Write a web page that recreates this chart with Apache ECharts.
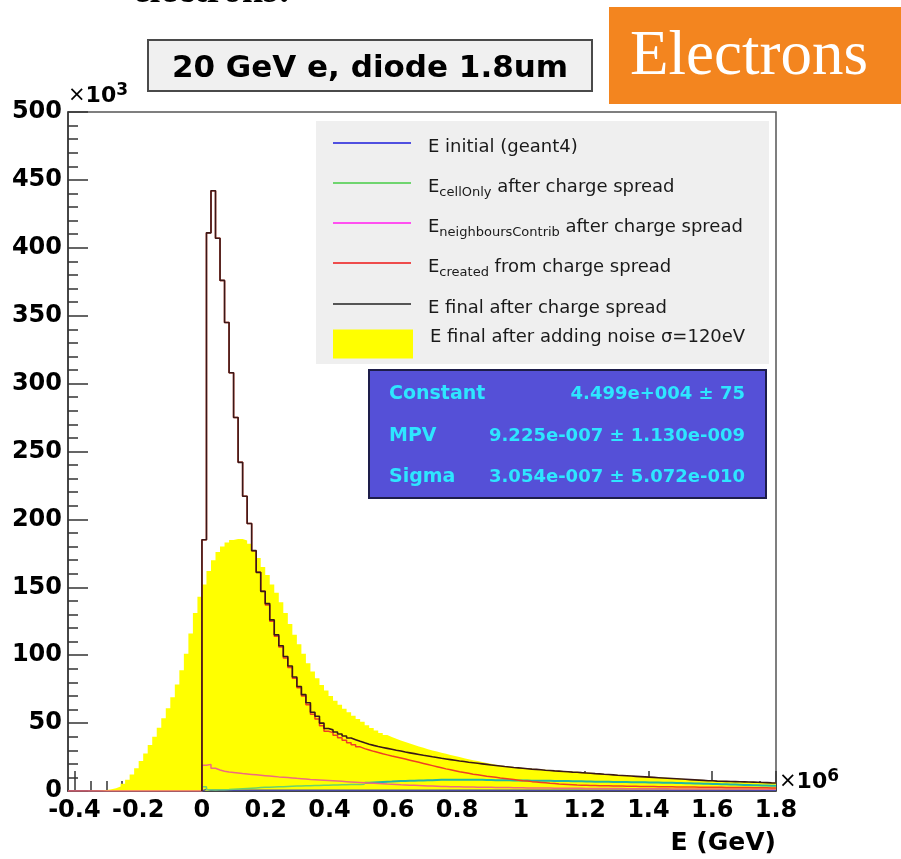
<!DOCTYPE html>
<html>
<head>
<meta charset="utf-8">
<title>20 GeV e, diode 1.8um</title>
<script src="https://cdn.jsdelivr.net/npm/echarts@6.0.0/dist/echarts.min.js"></script>
<style>
  html, body { margin: 0; padding: 0; background: #fff; }
  #chart { width: 901px; height: 859px; }
</style>
</head>
<body>
<div id="chart"></div>
<script>
// x range of the frame, in units of 10^6 (as on the axis)
const X_MIN = -0.42
const X_MAX = 1.8
// bins are anchored at 0, 127 bins up to 1.8
const BIN_WIDTH = 1.8 / 127

const X_TICKS = [-0.4, -0.2, 0, 0.2, 0.4, 0.6, 0.8, 1, 1.2, 1.4, 1.6, 1.8]

// counts in units of 10^3, one value per bin, starting at bin 0 (E = 0)
const finalCounts = [
  185, 411, 442, 407, 376, 345, 308, 275, 242, 217,
  197, 177, 161, 147, 138, 126, 115, 107, 99, 92,
  84, 77, 71, 65, 58, 55, 50, 46, 45, 43.5,
  42, 40.5, 39, 37.8, 36.6, 35.5, 34.5, 33.6, 32.8, 32.1,
  31.4, 30.7, 30, 29.4, 28.7, 28.1, 27.5, 26.9, 26.3, 25.8,
  25.2, 24.7, 24.1, 23.6, 23.1, 22.6, 22.1, 21.7, 21.2, 20.8,
  20.4, 20, 19.6, 19.2, 18.8, 18.4, 18.0, 17.7, 17.3, 17.0,
  16.7, 16.4, 16.1, 15.9, 15.6, 15.3, 15.1, 14.8, 14.6, 14.4,
  14.2, 13.9, 13.8, 13.5, 13.3, 13.1, 12.8, 12.6, 12.3, 12.1,
  11.9, 11.6, 11.4, 11.2, 11.0, 10.8, 10.6, 10.4, 10.2, 10.0,
  9.8, 9.6, 9.4, 9.2, 9.0, 8.8, 8.6, 8.4, 8.2, 8.0,
  7.8, 7.6, 7.5, 7.3, 7.2, 7.1, 7.0, 6.9, 6.8, 6.7,
  6.6, 6.5, 6.4, 6.3, 6.2, 6.0, 5.9
]

const createdCounts = [
  185, 411, 442, 407, 376, 345, 308, 275, 242, 217,
  197, 177, 161, 147, 137, 125, 114, 106, 98, 91,
  83, 76, 70, 63.5, 56.5, 53, 48, 44, 43, 41,
  39.2, 37.4, 35.6, 34, 32.5, 31.2, 30.2, 29.2, 28.3, 27.4,
  26.6, 25.8, 25.1, 24.3, 23.5, 22.7, 21.9, 21.1, 20.3, 19.5,
  18.7, 17.9, 17.1, 16.3, 15.6, 14.9, 14.2, 13.6, 13.0, 12.4,
  11.9, 11.4, 10.9, 10.5, 10.1, 9.6, 9.2, 8.8, 8.4, 8.0,
  7.6, 7.3, 6.9, 6.6, 6.3, 6.0, 5.7, 5.5, 5.2, 5.0,
  4.8, 4.6, 4.4, 4.3, 4.2, 4.1, 4.0, 3.9, 3.85, 3.8,
  3.7, 3.65, 3.6, 3.55, 3.5, 3.45, 3.4, 3.35, 3.3, 3.25,
  3.2, 3.15, 3.1, 3.05, 3.0, 3.0, 2.95, 2.9, 2.9, 2.85,
  2.8, 2.8, 2.75, 2.7, 2.7, 2.65, 2.6, 2.6, 2.55, 2.5,
  2.5, 2.45, 2.4, 2.4, 2.35, 2.3, 2.3
]

const neighbourCounts = [
  19, 19.6, 16.7, 15.5, 14.6, 14.0, 13.6, 13.2, 12.8, 12.5,
  12.2, 11.9, 11.6, 11.3, 11.0, 10.7, 10.4, 10.2, 9.9, 9.6,
  9.3, 9.1, 8.8, 8.5, 8.3, 8.1, 7.9, 7.7, 7.5, 7.3,
  7.1, 6.9, 6.7, 6.5, 6.3, 6.1, 5.9, 5.7, 5.5, 5.3,
  5.1, 4.95, 4.8, 4.6, 4.45, 4.3, 4.15, 4.0, 3.85, 3.7,
  3.6, 3.5, 3.4, 3.3, 3.2, 3.1, 3.05, 3.0, 2.95, 2.9,
  2.85, 2.8, 2.75, 2.7, 2.65, 2.6, 2.55, 2.5, 2.45, 2.4,
  2.35, 2.3, 2.3, 2.25, 2.2, 2.2, 2.15, 2.1, 2.1, 2.05,
  2.0, 2.0, 1.95, 1.95, 1.9, 1.9, 1.85, 1.85, 1.8, 1.8,
  1.8, 1.75, 1.75, 1.7, 1.7, 1.7, 1.65, 1.65, 1.65, 1.6,
  1.6, 1.6, 1.6, 1.55, 1.55, 1.55, 1.55, 1.5, 1.5, 1.5,
  1.5, 1.5, 1.45, 1.45, 1.45, 1.45, 1.4, 1.4, 1.4, 1.4,
  1.4, 1.35, 1.35, 1.35, 1.35, 1.3, 1.3
]

// cellOnly: bins 0..35 (green part) and bins 36..126 (teal part)
const cellOnlyHead = [
  3.2, 0.9, 0.8, 0.9, 1.0, 1.1, 1.3, 1.5, 1.7, 1.9,
  2.1, 2.3, 2.5, 2.7, 2.8, 3.0, 3.1, 3.2, 3.4, 3.5,
  3.6, 3.7, 3.8, 3.9, 4.0, 4.1, 4.2, 4.3, 4.4, 4.5,
  4.55, 4.6, 4.7, 4.75, 4.8, 4.9
]
const cellOnlyTail = [
  6.1, 6.3, 6.5, 6.7, 6.9, 7.0, 7.2, 7.3, 7.4, 7.5,
  7.6, 7.7, 7.8, 7.9, 8.0, 8.1, 8.2, 8.2, 8.3, 8.3,
  8.3, 8.3, 8.3, 8.2, 8.2, 8.2, 8.1, 8.1, 8.0, 8.0,
  7.9, 7.9, 7.8, 7.8, 7.7, 7.7, 7.6, 7.6, 7.6, 7.5,
  7.5, 7.4, 7.4, 7.3, 7.3, 7.2, 7.1, 7.1, 7.0, 7.0,
  6.9, 6.9, 6.8, 6.8, 6.7, 6.7, 6.6, 6.6, 6.5, 6.5,
  6.4, 6.4, 6.3, 6.2, 6.2, 6.1, 6.0, 6.0, 5.9, 5.8,
  5.7, 5.7, 5.6, 5.5, 5.4, 5.3, 5.2, 5.1, 5.0, 4.9,
  4.8, 4.7, 4.6, 4.5, 4.4, 4.3, 4.2, 4.1, 4.0, 3.9, 3.8
]

const initialCounts = [
  1.2, 0.6, 0.5, 0.5, 0.5, 0.6, 0.5, 0.5, 0.5, 0.6,
  0.5, 0.5, 0.6, 0.5, 0.5, 0.5, 0.6, 0.5, 0.5, 0.5,
  0.6, 0.5, 0.5, 0.5, 0.6, 0.5, 0.5, 0.6, 0.5, 0.5,
  0.5, 0.6, 0.5, 0.5, 0.5, 0.6, 0.5, 0.5, 0.5, 0.6,
  0.5, 0.5, 0.6, 0.5, 0.5, 0.5, 0.6, 0.5, 0.5, 0.5,
  0.6, 0.5, 0.5, 0.5, 0.6, 0.5, 0.5, 0.6, 0.5, 0.5,
  0.5, 0.6, 0.5, 0.5, 0.5, 0.6, 0.5, 0.5, 0.5, 0.6,
  0.5, 0.5, 0.6, 0.5, 0.5, 0.5, 0.6, 0.5, 0.5, 0.5,
  0.6, 0.5, 0.5, 0.5, 0.6, 0.5, 0.5, 0.6, 0.5, 0.5,
  0.5, 0.6, 0.5, 0.5, 0.5, 0.6, 0.5, 0.5, 0.5, 0.6,
  0.5, 0.5, 0.6, 0.5, 0.5, 0.5, 0.6, 0.5, 0.5, 0.5,
  0.6, 0.5, 0.5, 0.5, 0.6, 0.5, 0.5, 0.6, 0.5, 0.5,
  0.5, 0.6, 0.5, 0.5, 0.5, 0.6, 0.5
]

// E final with noise: bins -30..-1, then bins 0..126
const noisyNeg = [
  0, 0, 0, 0, 0, 0.1, 0.2, 0.4, 0.7, 1.2,
  2, 3.4, 5.3, 8.3, 12.2, 16.8, 22, 27.6, 33.8, 40,
  46.5, 53.5, 61, 69, 78.5, 89, 101, 116, 131, 143
]
const noisyPos = [
  152, 162, 170, 176, 180, 183, 184.8, 185.5, 185.5, 184.5,
  182, 177, 171.5, 165, 159, 152, 146, 139, 131, 123,
  115, 108, 101, 94, 88, 83, 78, 74, 70, 66.5,
  63.5, 60.5, 58, 55.5, 53, 51, 48.5, 46.3, 44.5, 42.8,
  41.2, 39.8, 38.5, 37.2, 36, 34.9, 33.9, 32.8, 31.8, 30.8,
  29.9, 29, 28.2, 27.4, 26.6, 25.8, 25, 24.2, 23.4, 22.7,
  22, 21.3, 20.6, 20, 19.3, 18.8, 18.4, 18.0, 17.6, 17.3,
  17.0, 16.7, 16.4, 16.2, 15.9, 15.6, 15.4, 15.1, 14.9, 14.7,
  14.5, 14.2, 14.1, 13.8, 13.6, 13.4, 13.1, 12.9, 12.6, 12.4,
  12.2, 11.9, 11.7, 11.5, 11.3, 11.1, 10.9, 10.7, 10.5, 10.3,
  10.1, 9.9, 9.7, 9.5, 9.3, 9.1, 8.9, 8.7, 8.5, 8.3,
  8.1, 7.9, 7.8, 7.6, 7.5, 7.4, 7.3, 7.2, 7.1, 7.0,
  6.9, 6.8, 6.7, 6.6, 6.5, 6.3, 6.2
]

const FIT_LABELS = ['Constant', 'MPV', 'Sigma']
const FIT_VALUES = ['4.499e+004 \u00b1 75', '9.225e-007 \u00b1 1.130e-009', '3.054e-007 \u00b1 5.072e-010']

const LEGEND_TEXT = {
  initial: '{n|E initial (geant4)}',
  cellOnly: '{n|E}{s|cellOnly}{n| after charge spread}',
  neighbours: '{n|E}{s|neighboursContrib}{n| after charge spread}',
  created: '{n|E}{s|created}{n| from charge spread}',
  final: '{n|E final after charge spread}',
  noise: '{n|E final after adding noise }{n|\u03c3=120eV}'
}
// legend rows: series name, icon colour, top of the row
const LEGEND_ROWS = [
  ['initial', '#5050e0', 138],
  ['cellOnly', '#6fd56f', 178],
  ['neighbours', '#ff50f0', 218],
  ['created', '#ee4c4c', 258],
  ['final', '#555', 299]
]

const FONT = 'DejaVu Sans'

// turn per-bin counts into step points (left edges + closing right edge)
function histPoints(firstBin, values, riseFrom) {
  const pts = []
  if (riseFrom !== undefined) pts.push([riseFrom, 0])
  values.forEach((v, i) => pts.push([(firstBin + i) * BIN_WIDTH, v]))
  pts.push([(firstBin + values.length) * BIN_WIDTH, values[values.length - 1]])
  return pts
}

function histLine(name, data, color, width) {
  return {
    name: name,
    type: 'line',
    step: 'end',
    symbol: 'none',
    silent: true,
    color: color,
    lineStyle: { color: color, width: width || 1.5 },
    data: data
  }
}

const X_MINOR = []
X_TICKS.forEach(t => {
  [0.05, 0.1, 0.15].forEach(d => {
    const v = +(t + d).toFixed(2)
    if (v < X_MAX) X_MINOR.push(v)
  })
})

const legendRich = {
  n: { fontFamily: FONT, fontSize: 18, color: '#1a1a1a', lineHeight: 24 },
  s: { fontFamily: FONT, fontSize: 13, color: '#1a1a1a', lineHeight: 10, verticalAlign: 'bottom' }
}

const powRich = {
  x: { fontFamily: FONT, fontSize: 21, color: '#000', lineHeight: 28 },
  t: { fontFamily: FONT, fontSize: 22, fontWeight: 'bold', color: '#000', lineHeight: 28 },
  p: { fontFamily: FONT, fontSize: 17, fontWeight: 'bold', color: '#000', lineHeight: 12, verticalAlign: 'top' }
}

const axisColor = '#333'

function legendRow(name, color, top, opts) {
  return Object.assign({
    orient: 'vertical',
    left: 333,
    top: top,
    padding: 0,
    itemWidth: 78,
    itemHeight: 2,
    icon: 'rect',
    selectedMode: false,
    itemStyle: { borderWidth: 0 },
    formatter: n => LEGEND_TEXT[n],
    textStyle: { fontFamily: FONT, fontSize: 18, color: '#1a1a1a', padding: [8, 0, 0, 12], rich: legendRich },
    data: [{ name: name, itemStyle: { color: color } }]
  }, opts || {})
}

const legends = LEGEND_ROWS.map(r => legendRow(r[0], r[1], r[2]))
legends.push(legendRow('noise', '#ffff00', 328, {
  itemWidth: 80,
  itemHeight: 29,
  textStyle: { fontFamily: FONT, fontSize: 18, color: '#1a1a1a', padding: [0, 0, 14, 12], rich: legendRich }
}))

const chart = echarts.init(document.getElementById('chart'), null, { renderer: 'canvas' })

const graphics = [
  // text cut at the top of the page
  { type: 'text', z: 50, style: { text: 'electrons:', x: 133, y: 11, font: 'bold 38px "Liberation Serif"', fill: '#000', textVerticalAlign: 'bottom', verticalAlign: 'bottom' } },
  // title box
  { type: 'rect', z: 50, shape: { x: 148, y: 40, width: 444, height: 51 }, style: { fill: '#f0f0f0', stroke: '#4a4a4a', lineWidth: 2 } },
  { type: 'text', z: 51, style: { text: '20 GeV e, diode 1.8um', x: 370, y: 69, font: 'bold 31px "DejaVu Sans"', fill: '#000', textAlign: 'center', align: 'center', textVerticalAlign: 'middle', verticalAlign: 'middle' } },
  // orange tag
  { type: 'rect', z: 50, shape: { x: 609, y: 7, width: 292, height: 97 }, style: { fill: '#f3851f' } },
  { type: 'text', z: 51, style: { text: 'Electrons', x: 630, y: 57, font: '63px "Liberation Serif"', fill: '#fff', textVerticalAlign: 'middle', verticalAlign: 'middle' } },
  // legend background
  { type: 'rect', z: 0, shape: { x: 316, y: 121, width: 453, height: 243 }, style: { fill: '#efefef' } },
  // fit box
  { type: 'rect', z: 50, shape: { x: 369, y: 370, width: 397, height: 128 }, style: { fill: '#5550d7', stroke: '#1d1d4a', lineWidth: 2 } }
]
const fitRows = [394, 436, 477]
FIT_LABELS.forEach((label, i) => {
  graphics.push({ type: 'text', z: 51, style: { text: label, x: 389, y: fitRows[i], font: 'bold 19px "DejaVu Sans"', fill: '#2ee6ff', textVerticalAlign: 'middle', verticalAlign: 'middle' } })
  graphics.push({ type: 'text', z: 51, style: { text: FIT_VALUES[i], x: 745, y: fitRows[i], font: 'bold 18px "DejaVu Sans"', fill: '#2ee6ff', textAlign: 'right', align: 'right', textVerticalAlign: 'middle', verticalAlign: 'middle' } })
})

chart.setOption({
  animation: false,
  backgroundColor: '#fff',
  grid: { left: 68, right: 125, top: 112, bottom: 68, show: true, borderColor: '#555', borderWidth: 1.5, backgroundColor: 'transparent' },
  legend: legends,
  xAxis: [
    {
      type: 'value',
      min: X_MIN,
      max: X_MAX,
      position: 'bottom',
      name: 'E (GeV)',
      nameLocation: 'end',
      nameGap: 0,
      nameTextStyle: { align: 'right', verticalAlign: 'top', padding: [40, 0, 0, 0], fontFamily: FONT, fontWeight: 'bold', fontSize: 25, color: '#000' },
      axisLine: { show: true, onZero: false, lineStyle: { color: axisColor, width: 1.5 } },
      axisTick: { show: true, inside: true, length: 20, customValues: X_TICKS, lineStyle: { color: axisColor, width: 1.5 } },
      axisLabel: { customValues: X_TICKS, margin: 8, formatter: v => String(v), fontFamily: FONT, fontWeight: 'bold', fontSize: 24, color: '#000' },
      splitLine: { show: false }
    },
    {
      type: 'value',
      min: X_MIN,
      max: X_MAX,
      position: 'bottom',
      name: '{x|\u00d7}{t|10}{p|6}',
      nameLocation: 'end',
      nameGap: 3,
      nameTextStyle: { align: 'left', verticalAlign: 'middle', padding: [0, 0, 18, 0], rich: powRich },
      axisLine: { show: false, onZero: false },
      axisTick: { show: true, inside: true, length: 10, customValues: X_MINOR, lineStyle: { color: axisColor, width: 1.5 } },
      axisLabel: { show: false },
      splitLine: { show: false }
    }
  ],
  yAxis: {
    type: 'value',
    min: 0,
    max: 500,
    interval: 50,
    name: '{x|\u00d7}{t|10}{p|3}',
    nameLocation: 'end',
    nameGap: 2,
    nameTextStyle: { align: 'left', verticalAlign: 'bottom', rich: powRich },
    axisLine: { show: true, onZero: false, lineStyle: { color: axisColor, width: 1.5 } },
    axisTick: { show: true, inside: true, length: 20, lineStyle: { color: axisColor, width: 1.5 } },
    minorTick: { show: true, splitNumber: 5, length: 10, lineStyle: { color: axisColor, width: 1.5 } },
    axisLabel: { margin: 6, fontFamily: FONT, fontWeight: 'bold', fontSize: 24, color: '#000' },
    splitLine: { show: false }
  },
  graphic: { elements: graphics },
  series: [
    Object.assign(histLine('noise', histPoints(-30, noisyNeg.concat(noisyPos)), '#ffff00', 0), {
      lineStyle: { width: 0, color: '#ffff00' },
      areaStyle: { color: '#ffff00', opacity: 1 }
    }),
    histLine('initial', histPoints(0, initialCounts, 0), '#4a4aa8'),
    histLine('cellOnly', histPoints(0, cellOnlyHead, 0), '#6cd16a'),
    histLine('cellOnly', histPoints(36, cellOnlyTail), '#1fb6a6', 2),
    histLine('neighbours', histPoints(0, neighbourCounts, X_MIN), '#ef6a80'),
    histLine('created', histPoints(0, createdCounts, 0), '#ef3f23'),
    histLine('final', histPoints(0, finalCounts, 0), '#3a1818', 1.6)
  ]
})
</script>
</body>
</html>
